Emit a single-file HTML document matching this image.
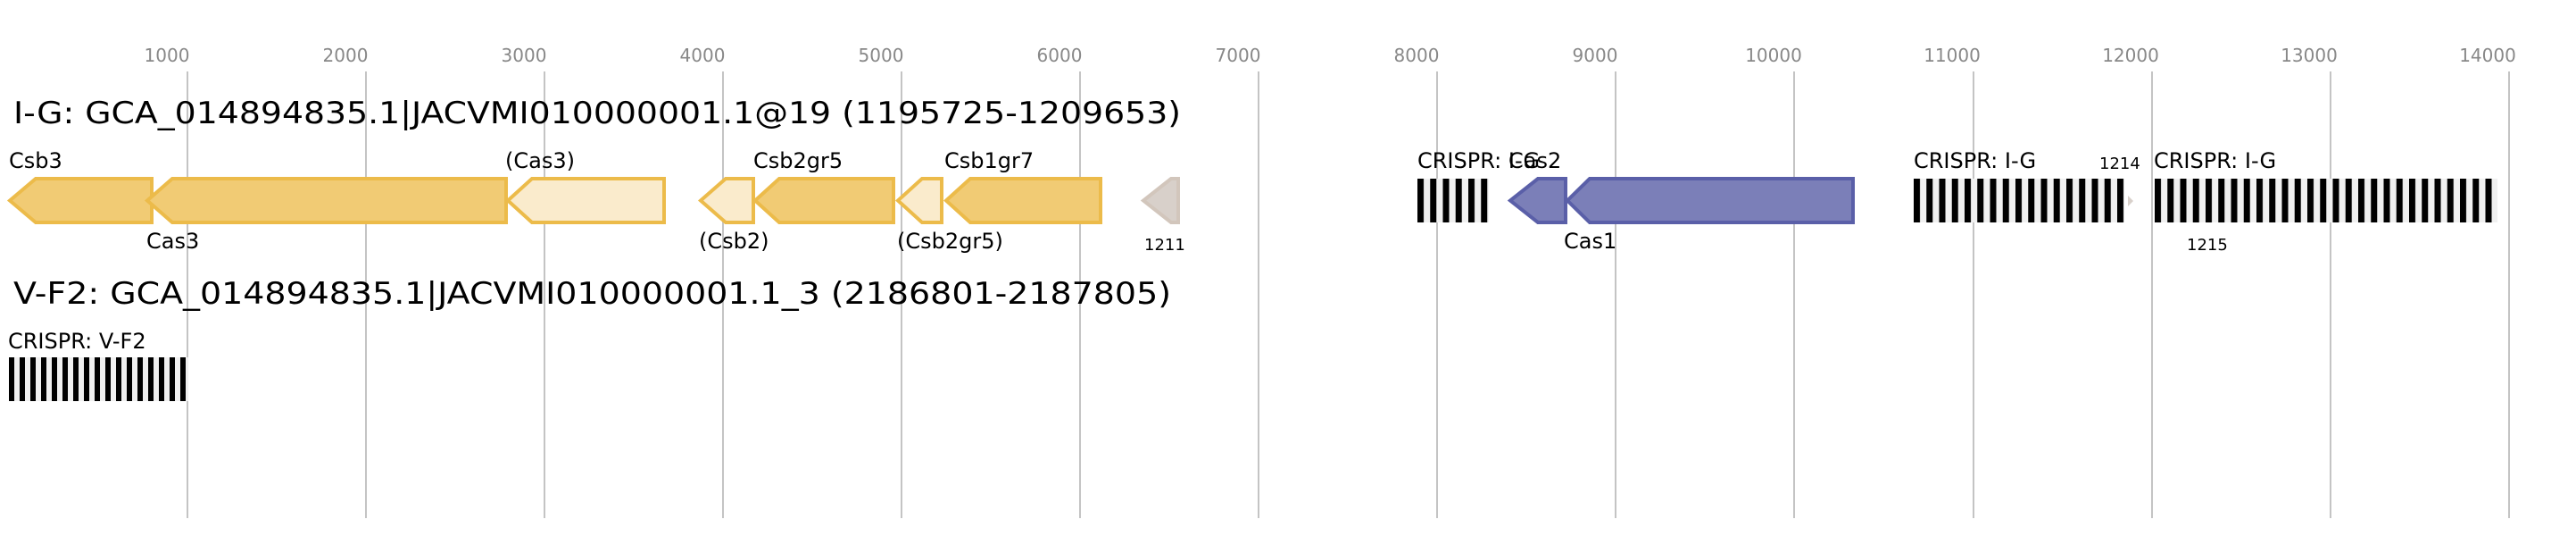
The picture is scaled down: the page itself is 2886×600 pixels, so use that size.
<!DOCTYPE html>
<html><head><meta charset="utf-8"><style>
html,body{margin:0;padding:0;background:#fff;}
svg{display:block;font-family:"DejaVu Sans","Liberation Sans",sans-serif;}
</style></head><body>
<svg width="2886" height="600" viewBox="0 0 2886 600" xmlns="http://www.w3.org/2000/svg">
<defs>
<pattern id="b1" x="10" y="0" width="12" height="600" patternUnits="userSpaceOnUse"><rect width="12" height="600" fill="#f0f0f0"/><rect width="6" height="600" fill="#000"/></pattern>
<pattern id="b2" x="1588" y="0" width="14.25" height="600" patternUnits="userSpaceOnUse"><rect width="14.25" height="600" fill="#f0f0f0"/><rect width="7" height="600" fill="#000"/></pattern>
<pattern id="b3" x="2144" y="0" width="14.25" height="600" patternUnits="userSpaceOnUse"><rect width="14.25" height="600" fill="#f0f0f0"/><rect width="7" height="600" fill="#000"/></pattern>
<pattern id="b4" x="2414" y="0" width="14.25" height="600" patternUnits="userSpaceOnUse"><rect width="14.25" height="600" fill="#f0f0f0"/><rect width="7" height="600" fill="#000"/></pattern>
</defs>
<g stroke="#c4c4c4" stroke-width="2">
<line x1="210" y1="80" x2="210" y2="580"/><line x1="410" y1="80" x2="410" y2="580"/><line x1="610" y1="80" x2="610" y2="580"/><line x1="810" y1="80" x2="810" y2="580"/><line x1="1010" y1="80" x2="1010" y2="580"/><line x1="1210" y1="80" x2="1210" y2="580"/><line x1="1410" y1="80" x2="1410" y2="580"/><line x1="1610" y1="80" x2="1610" y2="580"/><line x1="1810" y1="80" x2="1810" y2="580"/><line x1="2010" y1="80" x2="2010" y2="580"/><line x1="2211" y1="80" x2="2211" y2="580"/><line x1="2411" y1="80" x2="2411" y2="580"/><line x1="2611" y1="80" x2="2611" y2="580"/><line x1="2811" y1="80" x2="2811" y2="580"/>
</g>
<g fill="#888" font-size="20" text-anchor="middle">
<text x="187" y="69">1000</text><text x="387" y="69">2000</text><text x="587" y="69">3000</text><text x="787" y="69">4000</text><text x="987" y="69">5000</text><text x="1187" y="69">6000</text><text x="1387" y="69">7000</text><text x="1587" y="69">8000</text><text x="1787" y="69">9000</text><text x="1987" y="69">10000</text><text x="2187" y="69">11000</text><text x="2387" y="69">12000</text><text x="2587" y="69">13000</text><text x="2787" y="69">14000</text>
</g>
<text x="15" y="138" font-size="34" textLength="1308" lengthAdjust="spacingAndGlyphs">I-G: GCA_014894835.1|JACVMI010000001.1@19 (1195725-1209653)</text>
<text x="15" y="340" font-size="34" textLength="1297" lengthAdjust="spacingAndGlyphs">V-F2: GCA_014894835.1|JACVMI010000001.1_3 (2186801-2187805)</text>
<g stroke-width="4" stroke="#ecbb4a">
<polygon points="170,200 40,200 11,224.5 40,249 170,249" fill="#f1cb74"/>
<polygon points="567,200 193,200 165,224.5 193,249 567,249" fill="#f1cb74"/>
<polygon points="744,200 596,200 569,224.5 596,249 744,249" fill="#faebcc"/>
<polygon points="844,200 813,200 785,224.5 813,249 844,249" fill="#faebcc"/>
<polygon points="1001,200 873,200 846,224.5 873,249 1001,249" fill="#f1cb74"/>
<polygon points="1055,200 1033,200 1006,224.5 1033,249 1055,249" fill="#faebcc"/>
<polygon points="1233,200 1087,200 1060,224.5 1087,249 1233,249" fill="#f1cb74"/>
</g>
<polygon points="1320,200 1312,200 1281,224.5 1312,249 1320,249" fill="#d8d0ca" stroke="#d2c6bc" stroke-width="4"/>
<g stroke-width="4" stroke="#5a5fa8" fill="#7b7fb8">
<polygon points="1754,200 1723,200 1692,224.5 1723,249 1754,249"/>
<polygon points="2076,200 1781,200 1756,224.5 1781,249 2076,249"/>
</g>
<rect x="1588" y="200" width="80" height="49" fill="url(#b2)"/>
<rect x="2144" y="200" width="236" height="49" fill="url(#b3)"/>
<rect x="2414" y="200" width="384" height="49" fill="url(#b4)"/>
<rect x="10" y="400" width="201" height="49" fill="url(#b1)"/>
<polygon points="2384,219 2390,225 2384,231" fill="#d8d0ca"/>
<g font-size="24" fill="#000">
<text x="10" y="188">Csb3</text>
<text x="164" y="278">Cas3</text>
<text x="566" y="188">(Cas3)</text>
<text x="783" y="278">(Csb2)</text>
<text x="844" y="188">Csb2gr5</text>
<text x="1005" y="278">(Csb2gr5)</text>
<text x="1058" y="188">Csb1gr7</text>
<text x="1588" y="188">CRISPR: I-G</text>
<text x="1690" y="188">Cas2</text>
<text x="1752" y="278">Cas1</text>
<text x="2144" y="188">CRISPR: I-G</text>
<text x="2413" y="188">CRISPR: I-G</text>
<text x="9" y="390">CRISPR: V-F2</text>
</g>
<g font-size="18" fill="#000">
<text x="1282" y="280">1211</text>
<text x="2352" y="189">1214</text>
<text x="2450" y="280">1215</text>
</g>
</svg>
</body></html>
